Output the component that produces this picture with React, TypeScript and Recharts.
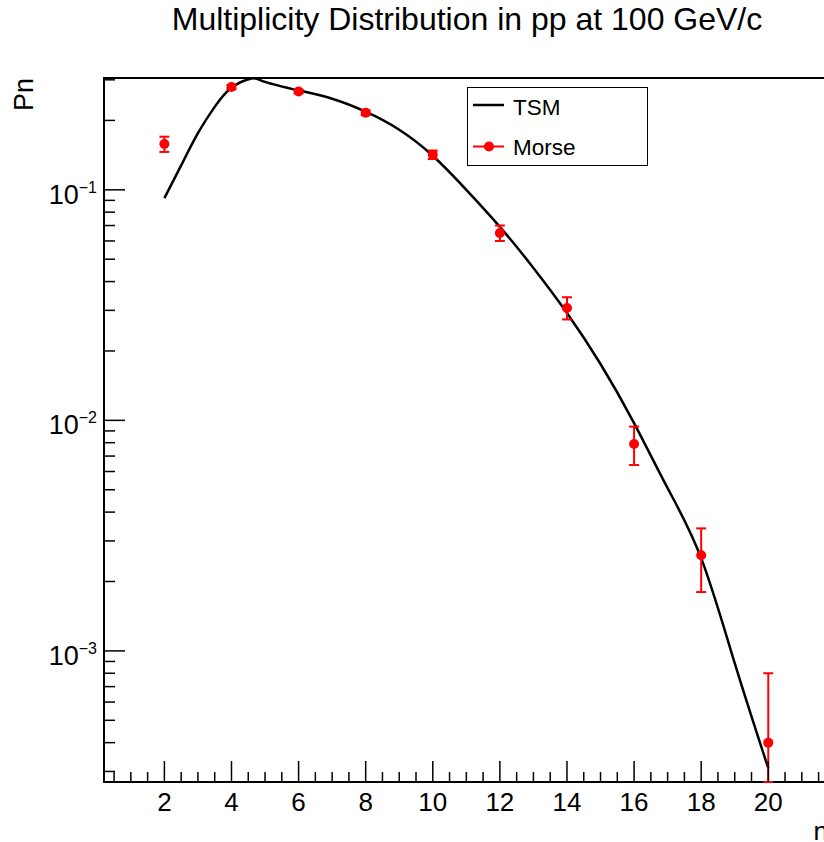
import React from "react";
import {
  ComposedChart,
  Line,
  Scatter,
  ErrorBar,
  XAxis,
  YAxis,
  ReferenceArea,
  Legend,
} from "recharts";

// TSM model curve
const tsmN = [2, 2.5, 3, 3.5, 4, 4.6, 5, 6, 7, 8, 9, 10, 11, 12, 13, 14, 15, 16, 17, 18, 19, 20];
const tsmP = [
  0.092, 0.1276, 0.176, 0.229, 0.277, 0.304, 0.294, 0.27, 0.2484, 0.2182, 0.1822, 0.1405, 0.1,
  0.0691, 0.04584, 0.02923, 0.01756, 0.00973, 0.00508, 0.002525, 0.000885, 0.00031,
];

// Morse data points with errors
const morseN = [2, 4, 6, 8, 10, 12, 14, 16, 18, 20];
const morseP = [0.158, 0.279, 0.267, 0.216, 0.142, 0.065, 0.0307, 0.0079, 0.0026, 0.0004];
const morseErrLow = [0.012, 0.006, 0.005, 0.005, 0.006, 0.005, 0.0033, 0.0015, 0.0008, 0.00013];
const morseErrHigh = [0.012, 0.006, 0.005, 0.005, 0.006, 0.005, 0.0035, 0.0015, 0.0008, 0.0004];

const xTicks = [
  0.5, 1, 1.5, 2, 2.5, 3, 3.5, 4, 4.5, 5, 5.5, 6, 6.5, 7, 7.5, 8, 8.5, 9, 9.5, 10, 10.5, 11, 11.5,
  12, 12.5, 13, 13.5, 14, 14.5, 15, 15.5, 16, 16.5, 17, 17.5, 18, 18.5, 19, 19.5, 20, 20.5, 21, 21.5,
];
const yTicks = [
  0.0003, 0.0004, 0.0005, 0.0006, 0.0007, 0.0008, 0.0009, 0.001, 0.002, 0.003, 0.004, 0.005, 0.006,
  0.007, 0.008, 0.009, 0.01, 0.02, 0.03, 0.04, 0.05, 0.06, 0.07, 0.08, 0.09, 0.1, 0.2, 0.3,
];

const X_DOMAIN: [number, number] = [0.2, 21.84];
const Y_DOMAIN: [number, number] = [0.00027, 0.3055];

const FONT = "'Liberation Sans', Arial, Helvetica, sans-serif";

const tsmData = tsmN.map((n, i) => ({ n, p: tsmP[i] }));
const morseData = morseN.map((n, i) => ({ n, p: morseP[i], err: [morseErrLow[i], morseErrHigh[i]] }));

const XTick = (props: any) => {
  const { x, y, payload } = props;
  const v = payload.value;
  const major = Math.abs(v % 2) < 1e-6;
  return (
    <g>
      <line x1={x} x2={x} y1={y} y2={y - (major ? 21 : 10)} stroke="#000" strokeWidth={1.5} />
      {major && (
        <text x={x} y={y + 29} textAnchor="middle" fontSize={26} fontFamily={FONT} fill="#000">
          {v}
        </text>
      )}
    </g>
  );
};

const YTick = (props: any) => {
  const { x, y, payload } = props;
  const v = payload.value;
  const lg = Math.log10(v);
  const major = Math.abs(lg - Math.round(lg)) < 1e-6;
  return (
    <g>
      <line x1={x} x2={x + (major ? 21 : 11)} y1={y} y2={y} stroke="#000" strokeWidth={1.5} />
      {major && (
        <text x={x - 7} y={y + 14} textAnchor="end" fontSize={27} fontFamily={FONT} fill="#000">
          10
          <tspan fontSize={16} dy={-11}>
            {"\u2212" + Math.abs(Math.round(lg))}
          </tspan>
        </text>
      )}
    </g>
  );
};

const Dot = (props: any) => <circle cx={props.cx} cy={props.cy} r={5} fill="#ff0000" />;

const LegendBox = () => (
  <div
    style={{
      width: 179,
      height: 77,
      border: "1.5px solid #000",
      background: "#fff",
      fontFamily: FONT,
    }}
  >
    <svg width={179} height={77} style={{ display: "block" }}>
      <line x1={5} x2={36} y1={17} y2={17} stroke="#000" strokeWidth={2.5} />
      <text x={45} y={27} fontSize={22.5} fontFamily={FONT} fill="#000">
        TSM
      </text>
      <line x1={5} x2={36} y1={58.5} y2={58.5} stroke="#ff0000" strokeWidth={2} />
      <circle cx={21} cy={58.5} r={5} fill="#ff0000" />
      <text x={45} y={67} fontSize={22.5} fontFamily={FONT} fill="#000">
        Morse
      </text>
    </svg>
  </div>
);

export default function App() {
  return (
    <div
      style={{
        position: "absolute",
        left: 0,
        top: 0,
        width: 824,
        height: 842,
        overflow: "hidden",
        background: "#fff",
      }}
    >
      <ComposedChart width={840} height={842} margin={{ top: 78, right: 10, bottom: 0, left: 0 }}>
        <XAxis
          dataKey="n"
          type="number"
          domain={X_DOMAIN}
          allowDataOverflow
          ticks={xTicks}
          interval={0}
          tick={<XTick />}
          tickLine={false}
          axisLine={false}
          tickSize={0}
          tickMargin={0}
          height={60}
        />
        <YAxis
          dataKey="p"
          type="number"
          scale="log"
          domain={Y_DOMAIN}
          allowDataOverflow
          ticks={yTicks}
          interval={0}
          tick={<YTick />}
          tickLine={false}
          axisLine={false}
          tickSize={0}
          tickMargin={0}
          width={104}
        />
        <ReferenceArea
          x1={X_DOMAIN[0]}
          x2={X_DOMAIN[1]}
          y1={Y_DOMAIN[0]}
          y2={Y_DOMAIN[1]}
          fill="none"
          stroke="#000"
          strokeWidth={2}
          ifOverflow="visible"
        />
        <Line
          data={tsmData}
          dataKey="p"
          name="TSM"
          type="natural"
          stroke="#000"
          strokeWidth={2.5}
          dot={false}
          isAnimationActive={false}
        />
        <Scatter data={morseData} dataKey="p" name="Morse" shape={<Dot />} isAnimationActive={false}>
          <ErrorBar dataKey="err" direction="y" width={5} stroke="#ff0000" strokeWidth={2} />
        </Scatter>
        <Legend
          content={() => <LegendBox />}
          layout="vertical"
          align="center"
          verticalAlign="middle"
          wrapperStyle={{ position: "absolute", left: 467, top: 87, width: "auto" }}
        />
      </ComposedChart>
      <svg
        width={824}
        height={842}
        style={{ position: "absolute", left: 0, top: 0, pointerEvents: "none" }}
      >
        <text x={467} y={30} textAnchor="middle" fontSize={32} fontFamily={FONT} fill="#000">
          Multiplicity Distribution in pp at 100 GeV/c
        </text>
        <text
          x={33}
          y={78}
          transform="rotate(-90 33 78)"
          textAnchor="end"
          fontSize={27}
          fontFamily={FONT}
          fill="#000"
        >
          Pn
        </text>
        <text x={828} y={840} textAnchor="end" fontSize={26} fontFamily={FONT} fill="#000">
          n
        </text>
      </svg>
    </div>
  );
}
